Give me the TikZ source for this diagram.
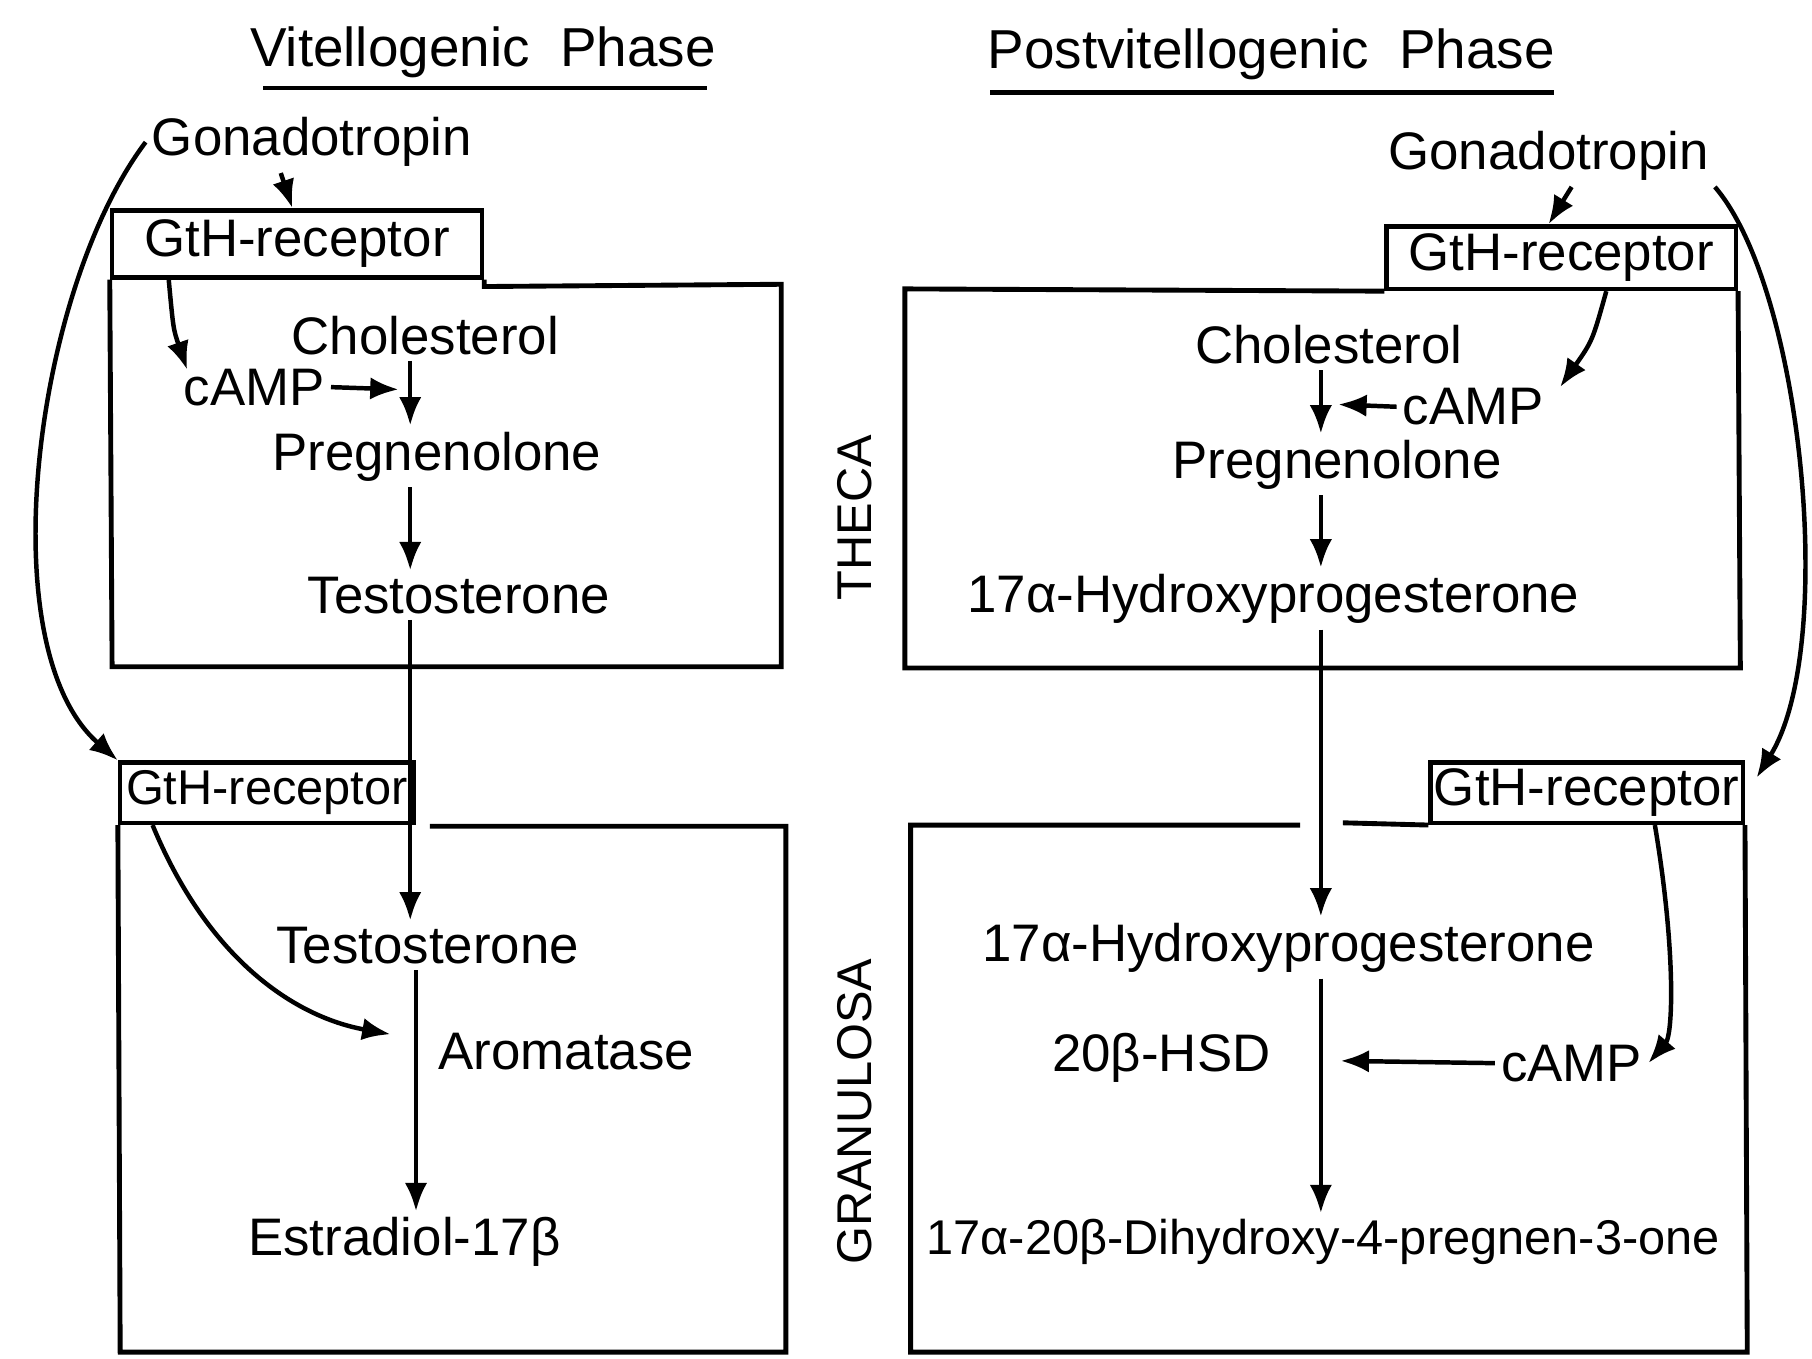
\documentclass[tikz,border=0pt]{standalone}
\usepackage{fontspec}
\setmainfont{Liberation Sans}
\usetikzlibrary{arrows.meta}
\begin{document}
\begin{tikzpicture}[x=0.01cm,y=-0.01cm,
  every node/.style={inner sep=1pt, font=\fontsize{13}{15}\selectfont},
  rec/.style={draw, line width=1.1pt, inner sep=0pt},
  wall/.style={line width=1.2pt},
  arr/.style={line width=1.1pt, -{Latex[length=7pt,width=5.5pt]}},
  ln/.style={line width=1.1pt},
  vlab/.style={rotate=90, font=\fontsize{12}{14}\selectfont},
  line width=1.1pt]
\useasboundingbox (0,0) rectangle (1568,1176);

% titles
\node (tVit) at (418,45) [font=\fontsize{13.5}{15}\selectfont] {Vitellogenic\ \ Phase};
\draw[ln] (228,76) -- (612,76);
\node (tPost) at (1100,47) [font=\fontsize{13.5}{15}\selectfont] {Postvitellogenic\ \ Phase};
\draw[ln] (857,80) -- (1345,80);

% ---------- left: theca ----------
\node (gonL) at (270,123) {Gonadotropin};
\node[rec, minimum width=3.2cm, minimum height=0.58cm] (L1) at (257,211) {GtH-receptor};
\draw[wall] (L1.south east) -- ++(0,6) -- (676,246) -- (676,577) -- (97,577) -- (L1.south west);
\node (cholL) at (368,290) {Cholesterol};
\node (campL) at (220,335) {cAMP};
\node (pregL) at (378,395) {Pregnenolone};
\node (testL) at (397,515) {Testosterone};
\coordinate (xL) at (355,0);
\coordinate (cLend) at (345,337);
\coordinate (cLin) at (162,320);
\draw[arr] ([xshift=-0.27cm]gonL.south) -- ([xshift=-0.04cm]L1.north);
\draw[arr] (cholL.south -| xL) -- (pregL.north -| xL);
\draw[arr] (pregL.south -| xL) -- (testL.north -| xL);
\draw[arr] (campL.east) -- (cLend);
\draw[arr] ([xshift=0.51cm]L1.south west) .. controls (150,285) .. (cLin);

% ---------- left: granulosa ----------
\node[rec, minimum width=2.54cm, minimum height=0.52cm, font=\fontsize{12}{14}\selectfont] (L2) at (231,686) {GtH-receptor};
\draw[wall] (L2.south west) -- (104,1170) -- (680,1170) -- (680,715) -- (372,715);
\node (testG) at (370,818) {Testosterone};
\node (arom) at (490,910) {Aromatase};
\node (estr) at (350,1075) {Estradiol-17β};
\coordinate (xL2) at (360,0);
\coordinate (aromIn) at (338,895);
\draw[arr] (testL.south -| xL) -- (testG.north -| xL);
\draw[arr] (testG.south -| xL2) -- (estr.north -| xL2);
\draw[arr] ([xshift=0.3cm]L2.south west) .. controls (180,830) and (255,880) .. (aromIn);
\draw[arr] (gonL.west) .. controls (30,250) and (-10,560) .. (L2.north west);

% ---------- middle labels ----------
\node[vlab] (theca) at (740,448) {THECA};
\node[vlab] (gran) at (740,962) {GRANULOSA};

% ---------- right: theca ----------
\node (gonR) at (1340,135) {Gonadotropin};
\node[rec, minimum width=3.02cm, minimum height=0.54cm] (R1) at (1351,223) {GtH-receptor};
\draw[wall] (R1.south west) -- (783,250) -- (783,578) -- (1506,578) -- (R1.south east);
\node (cholR) at (1150,298) {Cholesterol};
\node (campR) at (1275,352) {cAMP};
\node (pregR) at (1157,402) {Pregnenolone};
\node (hydR) at (1102,518) {17α-Hydroxyprogesterone};
\coordinate (xR) at (1143,0);
\coordinate (cRend) at (1158,350);
\coordinate (cRin) at (1350,335);
\draw[arr] ([xshift=0.2cm]gonR.south) -- ([xshift=-0.11cm]R1.north);
\draw[arr] (cholR.south -| xR) -- (pregR.north -| xR);
\draw[arr] (pregR.south -| xR) -- (hydR.north -| xR);
\draw[arr] (campR.west) -- (cRend);
\draw[arr] ([xshift=0.39cm]R1.south) .. controls (1378,295) .. (cRin);

% ---------- right: granulosa ----------
\node[rec, minimum width=2.7cm, minimum height=0.52cm] (R2) at (1373,686) {GtH-receptor};
\draw[wall] (R2.south west) -- (1162,712);
\draw[wall] (1125,714) -- (788,714) -- (788,1170) -- (1512,1170) -- (R2.south east);
\node (hydG) at (1115,820) {17α-Hydroxyprogesterone};
\node (hsd) at (1005,915) {20β-HSD};
\node (campG) at (1360,920) {cAMP};
\node (dihyd) at (1145,1075) [font=\fontsize{12}{14}\selectfont] {17α-20β-Dihydroxy-4-pregnen-3-one};
\coordinate (cGend) at (1160,918);
\draw[arr] (hydR.south -| xR) -- (hydG.north -| xR);
\draw[arr] (hydG.south -| xR) -- (dihyd.north -| xR);
\draw[arr] (campG.west) -- (cGend);
\draw[arr] ([xshift=0.59cm]R2.south) .. controls (1450,820) and (1448,895) .. (campG.east);
\draw[arr] (gonR.south east) .. controls (1560,250) and (1590,560) .. ([shift={(0.1cm,-0.15cm)}]R2.north east);
\end{tikzpicture}
\end{document}
